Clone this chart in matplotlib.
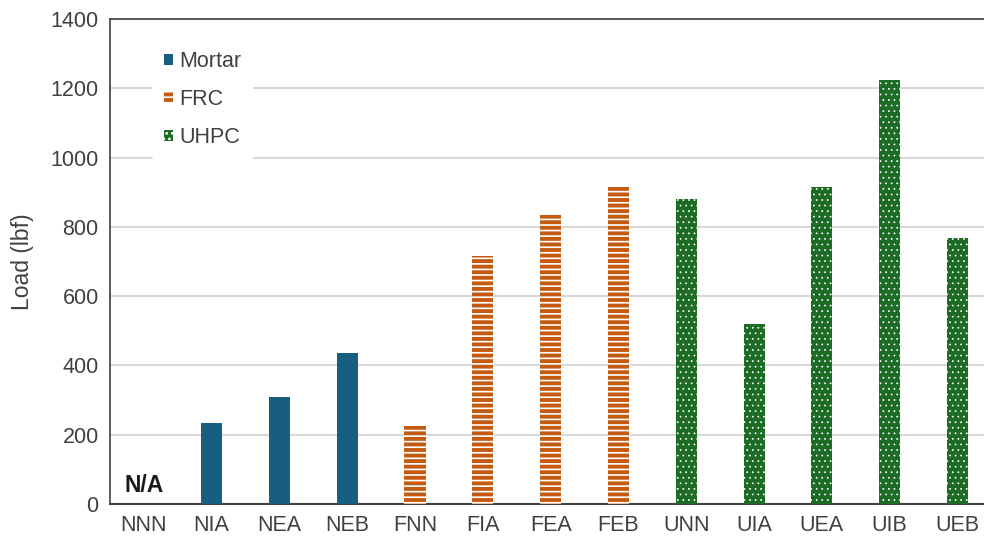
import matplotlib
matplotlib.use("Agg")
import matplotlib.pyplot as plt
from matplotlib.patches import Patch

plt.rcParams['font.family'] = ['Liberation Sans', 'DejaVu Sans']
plt.rcParams['hatch.color'] = 'white'
plt.rcParams['hatch.linewidth'] = 1.2

# specimen labels and peak loads (lbf)
specimens = ['NNN', 'NIA', 'NEA', 'NEB', 'FNN', 'FIA', 'FEA', 'FEB',
             'UNN', 'UIA', 'UEA', 'UIB', 'UEB']
loads = [None, 234, 309, 436, 225, 716, 834, 915, 880, 520, 915, 1224, 768]
groups = ['Mortar'] * 4 + ['FRC'] * 4 + ['UHPC'] * 5

colors = {'Mortar': '#175e80', 'FRC': '#c55a11', 'UHPC': '#1e6b26'}
hatches = {'Mortar': None, 'FRC': '---', 'UHPC': '...'}
hatch_lw = {'Mortar': 1.0, 'FRC': 1.2, 'UHPC': 0.5}


def set_hlw(artist, g):
    try:
        artist.set_hatch_linewidth(hatch_lw[g])
    except AttributeError:
        pass


fig = plt.figure(figsize=(9.84, 5.42), dpi=100)
ax = fig.add_axes([0.1116, 0.0701, 0.8884, 0.8949])

for i, (v, g) in enumerate(zip(loads, groups)):
    if v is None:
        continue
    bars = ax.bar(i, v, width=0.31, color=colors[g], hatch=hatches[g],
                  edgecolor='white', linewidth=0, zorder=3)
    for b in bars:
        set_hlw(b, g)

ax.text(0, 52, 'N/A', ha='center', va='center', fontsize=16.5,
        fontweight='bold', color='#1a1a1a', zorder=4)

ax.set_xlim(-0.5, 12.39)
ax.set_ylim(0, 1400)
ax.set_yticks(range(0, 1401, 200))
ax.set_xticks(range(len(specimens)))
ax.set_xticklabels(specimens)
ax.tick_params(length=0, labelsize=15.5, colors='#404040', pad=8)
ax.set_ylabel('Load (lbf)', fontsize=16.5, color='#404040', labelpad=12)

ax.grid(axis='y', color='#d9d9d9', linewidth=1.5, zorder=0)
ax.set_axisbelow(True)
for s in ['top', 'left']:
    ax.spines[s].set_color('#404040')
    ax.spines[s].set_linewidth(1.2)
ax.spines['bottom'].set_color('#404040')
ax.spines['bottom'].set_linewidth(1.5)
ax.spines['right'].set_visible(False)

handles = []
for g in ['Mortar', 'FRC', 'UHPC']:
    h = Patch(facecolor=colors[g], hatch=hatches[g], edgecolor='white',
              linewidth=0, label=g)
    set_hlw(h, g)
    handles.append(h)
leg = ax.legend(handles=handles, loc='upper left', bbox_to_anchor=(0.036, 0.98),
                fontsize=15.5, frameon=True, framealpha=1, edgecolor='white',
                handlelength=0.4, handleheight=0.4, handletextpad=0.3,
                labelspacing=0.79, borderpad=0.55)
leg.get_frame().set_linewidth(0)
for t in leg.get_texts():
    t.set_color('#404040')

fig.savefig('out.png', dpi=100)
